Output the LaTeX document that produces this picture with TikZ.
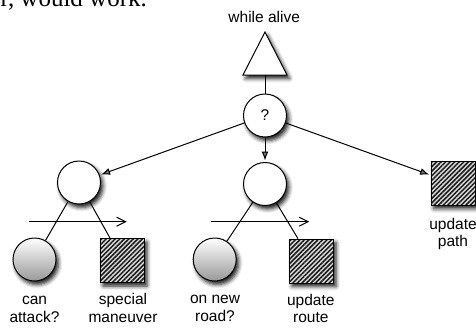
\documentclass[tikz,border=0pt]{standalone}
\usepackage{fontspec}
\setmainfont{Liberation Serif}
\setsansfont{Liberation Sans}
\usetikzlibrary{arrows.meta,shadows.blur,patterns.meta}
\newcommand\labfont{\fontsize{15.5}{17.5}\selectfont\sffamily}
\begin{document}
\begin{tikzpicture}[x=1pt,y=-1pt,
  shadowed/.style={blur shadow={shadow xshift=2.5pt,shadow yshift=-3.5pt,shadow blur radius=4pt,shadow opacity=90}},
  sel/.style={circle,draw,line width=1pt,fill=white,minimum size=43pt,inner sep=0pt,shadowed,font=\labfont},
  cond/.style={circle,draw,line width=1pt,minimum size=43pt,inner sep=0pt,shadowed,top color=white,bottom color=black!40},
  act/.style={rectangle,draw,line width=1pt,minimum size=44pt,inner sep=0pt,shadowed,preaction={fill=black!15},
    pattern={Lines[angle=45,distance=3.2pt,line width=1.5pt]},pattern color=black!90},
  fa/.style={-{Latex[length=9pt,width=7pt]},line width=1pt,shorten >=1.5pt},
  ha/.style={-{Straight Barb[length=9pt,width=9pt]},line width=1pt},
  lk/.style={line width=1pt},
  lbl/.style={anchor=base,inner sep=0pt,font=\labfont}]
\useasboundingbox (0,0) rectangle (476,327);
% clipped text from above
\node[anchor=base west,inner sep=0pt,font=\fontsize{25}{30}\selectfont] (cut) at (0.5,6.3) {r, would work.};
% repeat decorator
\node[lbl] (wa) at (264.2,22.7) {while alive};
\coordinate (apex) at (265,32);
\coordinate (bl) at (243,75);
\coordinate (br) at (287,75);
\coordinate (tb) at (265,75);
\draw[line width=1pt,fill=white,shadowed,line join=miter] (apex) -- (br) -- (bl) -- cycle;
% selector and sequences
\node[sel] (q) at (265,115.5) {?};
\node[sel] (pL) at (79,182.5) {};
\node[sel] (pM) at (265,184) {};
\node[act] (pR) at (453.3,183.3) {};
% leaves
\node[cond] (cA) at (34.5,259.5) {};
\node[act] (aB) at (122.5,260.5) {};
\node[cond] (cC) at (214.7,259.5) {};
\node[act] (aD) at (311.5,261) {};
% labels
\node[lbl] (tA) at (34.5,304.5) {\begin{tabular}[t]{@{}c@{}}can\\attack?\end{tabular}};
\node[lbl] (tB) at (123,304.5) {\begin{tabular}[t]{@{}c@{}}special\\maneuver\end{tabular}};
\node[lbl] (tC) at (215,303.5) {\begin{tabular}[t]{@{}c@{}}on new\\road?\end{tabular}};
\node[lbl] (tD) at (310.8,305) {\begin{tabular}[t]{@{}c@{}}update\\route\end{tabular}};
\node[lbl] (tR) at (453,229) {\begin{tabular}[t]{@{}c@{}}update\\path\end{tabular}};
% connectors
\draw[lk] (tb) -- (q);
\draw[fa] (q) -- (pL);
\draw[fa] (q) -- (pM);
\draw[fa] (q) -- (pR);
\draw[lk] (pL) -- (cA);
\draw[lk] (pL) -- (aB);
\draw[lk] (pM) -- (cC);
\draw[lk] (pM) -- (aD);
% sequence arrows
\coordinate (h1s) at (29.3,221.7);
\coordinate (h1e) at (126.7,221.7);
\coordinate (h2s) at (210.7,221.7);
\coordinate (h2e) at (309.3,221.7);
\draw[ha] (h1s) -- (h1e);
\draw[ha] (h2s) -- (h2e);
\end{tikzpicture}
\end{document}
